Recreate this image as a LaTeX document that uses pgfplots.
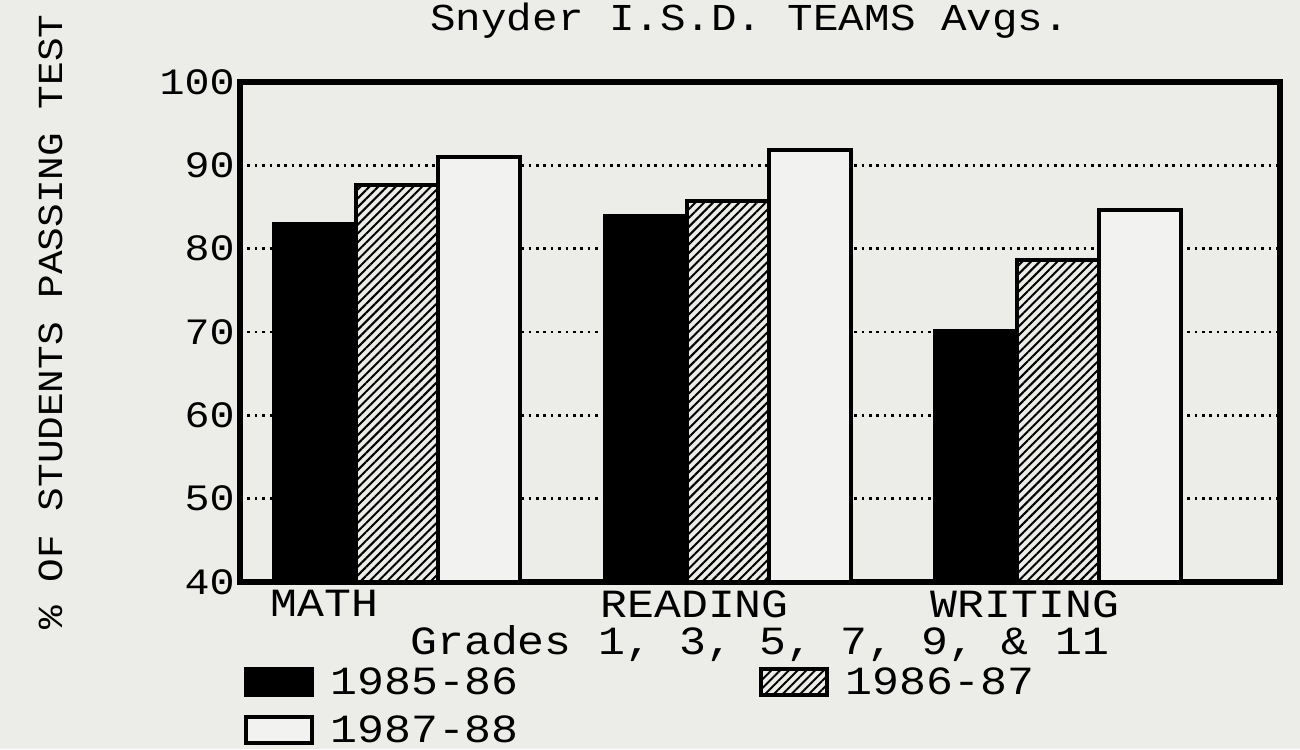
\documentclass[border=0pt]{standalone}
\usepackage{fontspec}
\usepackage{pgfplots}
\pgfplotsset{compat=1.18}
\usetikzlibrary{patterns.meta}
\newfontfamily\dm[FakeStretch=1.12]{Liberation Mono}
\newcommand\dmf[1]{\dm\fontsize{#1}{#1}\selectfont}
\definecolor{paper}{rgb}{0.925,0.925,0.915}
\definecolor{paperw}{rgb}{0.95,0.95,0.94}
\begin{document}
\begin{tikzpicture}
\path[use as bounding box, fill=paper] (0,0) rectangle (650pt,374.5pt);
\begin{axis}[
  at={(120pt,83.5pt)}, anchor=south west,
  scale only axis, width=520pt, height=250pt,
  xmin=-0.475, xmax=2.67, ymin=40, ymax=100,
  ytick={40,50,...,100},
  xtick={-0.384,0.614,1.613},
  xticklabels={MATH,READING,WRITING},
  xticklabel style={font=\dmf{20}, anchor=north west, inner sep=0pt, yshift=-4pt},
  ybar=0pt, bar width=0.248,
  ymajorgrids,
  grid style={line width=1.3pt, dash pattern=on 1.3pt off 2.4pt, black},
  axis line style={line width=3pt},
  major tick length=0pt,
  /pgf/number format/assume math mode=true,
  yticklabel style={font=\dmf{18.6}, inner sep=0pt, xshift=-2.5pt},
  xlabel={Grades 1, 3, 5, 7, 9, \& 11},
  xlabel style={font=\dmf{20}, at={(axis description cs:0.1635,-0.146)}, anchor=base west, inner sep=0pt},
  ylabel={\% OF STUDENTS PASSING TEST},
  ylabel style={font=\dmf{17.6}, at={(axis description cs:-0.171,0.52)}, anchor=base, inner sep=0pt},
  title={Snyder I.S.D. TEAMS Avgs.},
  title style={font=\dmf{19}, at={(axis description cs:0.49,1.08)}, anchor=base, inner sep=0pt},
  legend columns=2,
  legend cell align=left,
  legend image code/.code={\draw[#1] (0pt,-6.5pt) rectangle (33pt,6.5pt);},
  legend style={at={(axis description cs:0.003,-0.17)}, anchor=north west,
    draw=none, fill=none, inner sep=0pt, font=\dmf{20},
    nodes={inner sep=0pt},
    row sep=9pt,
    /tikz/every odd column/.append style={column sep=8.5pt},
    /tikz/every even column/.append style={column sep=120pt}},
]
\addplot[draw=black, line width=2pt, fill=black]
  coordinates {(0,83.0) (1,83.9) (2,70.1)};
\addplot[draw=black, line width=2pt, fill=paper,
  postaction={pattern={Lines[angle=45,distance=3.1pt,line width=1pt]}, pattern color=black}]
  coordinates {(0,87.7) (1,85.7) (2,78.6)};
\addplot[draw=black, line width=2pt, fill=paperw]
  coordinates {(0,91.0) (1,91.8) (2,84.7)};
\legend{1985-86,1986-87,1987-88}
\end{axis}
\end{tikzpicture}
\end{document}
